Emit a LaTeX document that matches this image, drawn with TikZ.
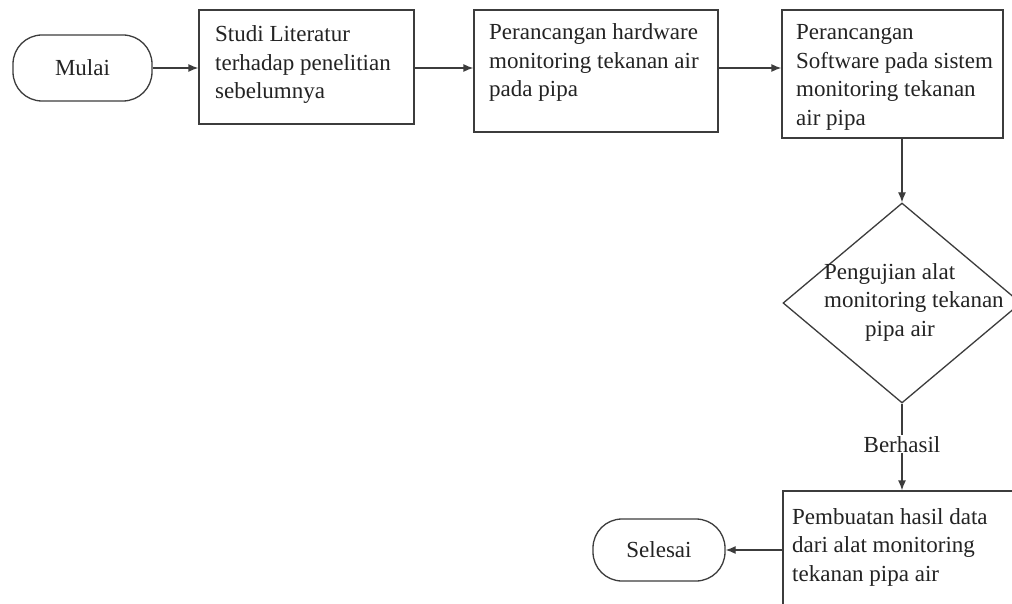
\documentclass[tikz,border=0pt]{standalone}
\usepackage{fontspec}
\setmainfont{Liberation Serif}
\usetikzlibrary{shapes.geometric,arrows.meta}
\definecolor{lineC}{RGB}{60,60,60}
\definecolor{textC}{RGB}{35,35,35}
\begin{document}
\begin{tikzpicture}[x=1pt,y=-1pt,
  box/.style={draw=lineC,line width=1.3pt,rectangle,inner sep=0pt},
  pill/.style={draw=lineC,line width=1.3pt,rectangle,rounded corners=29pt,inner sep=0pt,text=textC,font=\fontsize{23}{28.5}\selectfont},
  dia/.style={draw=lineC,line width=1.3pt,diamond,inner sep=0pt},
  txt/.style={inner sep=0pt,anchor=base west,align=left,text=textC,font=\fontsize{23}{28.5}\selectfont},
  lbl/.style={inner sep=1pt,fill=white,text=textC,font=\fontsize{23}{28.5}\selectfont},
  arr/.style={draw=lineC,line width=1.3pt,-{Latex[length=10pt,width=8pt]}},
]
\useasboundingbox (0,0) rectangle (1012,604);
\fill[white] (0,0) rectangle (1012,604);
\begin{scope}
\clip (0,0) rectangle (1012,604);
% shapes
\node[pill,minimum width=139pt,minimum height=66pt] (m) at (82.5,68) {Mulai};
\node[box,minimum width=215pt,minimum height=114pt] (b1) at (306.5,67) {};
\node[box,minimum width=244pt,minimum height=122pt] (b2) at (596,71) {};
\node[box,minimum width=221pt,minimum height=128pt] (b3) at (892.5,74) {};
\node[dia,minimum width=238pt,minimum height=200pt] (d) at (902,303) {};
\node[box,minimum width=238pt,minimum height=118pt] (b4) at (902,550) {};
\node[pill,minimum width=132pt,minimum height=62pt] (s) at (659,550) {Selesai};
% texts (anchored at the baseline of the last line)
\node[txt] (t1) at (215,99) {Studi Literatur\\terhadap penelitian\\sebelumnya};
\node[txt] (t2) at (489,97) {Perancangan hardware\\monitoring tekanan air\\pada pipa};
\node[txt] (t3) at (796,125.5) {Perancangan\\Software pada sistem\\monitoring tekanan\\air pipa};
\node[txt] (t4) at (824,336) {Pengujian alat\\monitoring tekanan\\\hspace*{41pt}pipa air};
\node[txt] (t5) at (792,581) {Pembuatan hasil data\\dari alat monitoring\\tekanan pipa air};
% connectors
\draw[arr] (m.east) -- (m.east -| b1.west);
\draw[arr] (b1.east |- m.east) -- (b2.west |- m.east);
\draw[arr] (b2.east |- m.east) -- (b3.west |- m.east);
\draw[arr] (b3.south -| d.north) -- (d.north);
\draw[arr] (d.south) -- node[lbl,pos=0.47] (berhasil) {Berhasil} (b4.north);
\draw[arr] (b4.west) -- (s.east);
\end{scope}
\end{tikzpicture}
\end{document}
